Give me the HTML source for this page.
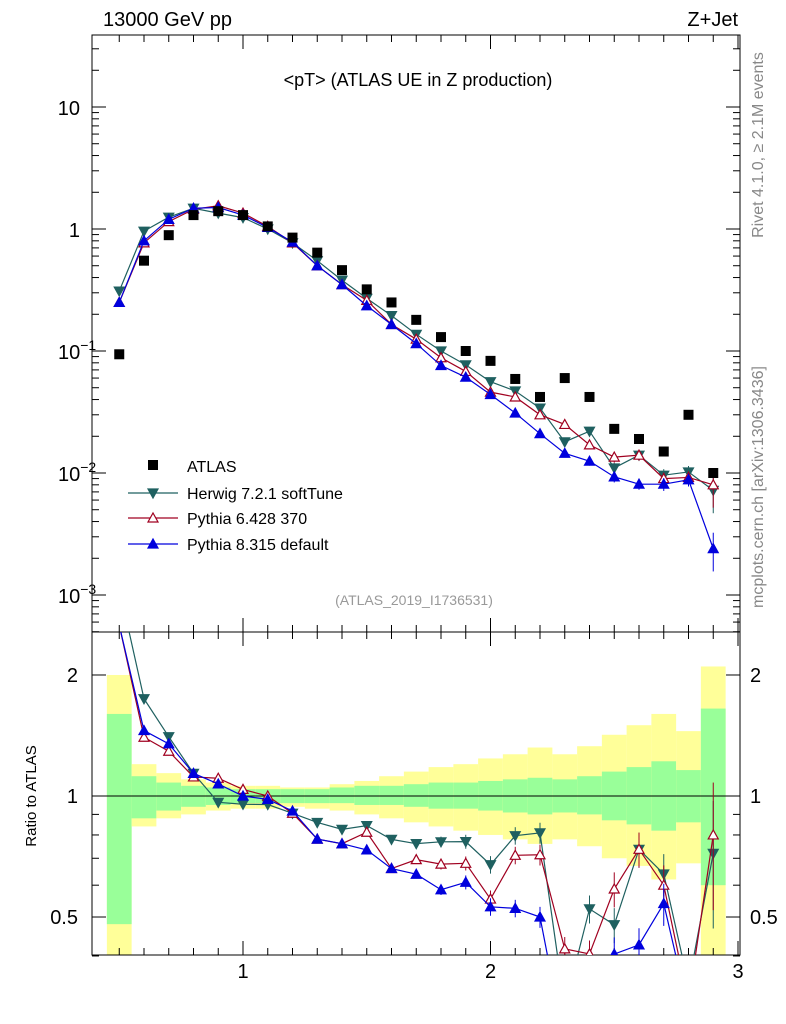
<!DOCTYPE html>
<html><head><meta charset="utf-8"><style>
html,body{margin:0;background:#fff;overflow:hidden;width:786px;height:1024px;}
svg{display:block;font-family:"Liberation Sans",sans-serif;}
</style></head><body>
<svg id="c" width="786" height="1024" viewBox="0 0 786 1024"></svg>
<script>
const xs=[0.5,0.6,0.7,0.8,0.9,1.0,1.1,1.2,1.3,1.4,1.5,1.6,1.7,1.8,1.9,2.0,2.1,2.2,2.3,2.4,2.5,2.6,2.7,2.8,2.9];
const atlas=[0.094,0.55,0.89,1.3,1.4,1.3,1.05,0.85,0.64,0.46,0.32,0.25,0.18,0.13,0.1,0.083,0.059,0.042,0.06,0.042,0.023,0.019,0.015,0.03,0.01];
const herwig=[0.31,0.96,1.25,1.48,1.35,1.24,1.0,0.77,0.55,0.38,0.27,0.195,0.137,0.1,0.077,0.056,0.047,0.034,0.018,0.022,0.011,0.014,0.0096,0.0102,0.0072];
const py6=[0.25,0.77,1.15,1.45,1.55,1.35,1.05,0.77,0.5,0.35,0.26,0.165,0.125,0.088,0.068,0.046,0.042,0.030,0.025,0.017,0.0135,0.014,0.009,0.0092,0.008];
const py8=[0.25,0.8,1.2,1.48,1.5,1.3,1.03,0.78,0.5,0.35,0.235,0.165,0.115,0.076,0.061,0.044,0.031,0.021,0.0145,0.0125,0.0093,0.0081,0.0081,0.0088,0.0024];
const mcErr=[0,0,0,0,0,0,0,0,0,0,0,0,0.02,0.03,0.04,0.05,0.05,0.06,0.07,0.08,0.1,0.1,0.12,0.12,0.35];
const gLo=[0.48,0.88,0.92,0.94,0.95,0.96,0.96,0.96,0.96,0.96,0.95,0.95,0.94,0.93,0.93,0.92,0.91,0.9,0.91,0.9,0.87,0.85,0.82,0.86,0.6];
const gHi=[1.6,1.12,1.08,1.06,1.05,1.04,1.04,1.04,1.04,1.05,1.06,1.06,1.07,1.08,1.08,1.09,1.1,1.11,1.1,1.12,1.15,1.18,1.22,1.16,1.65];
const yLo=[0.40,0.84,0.88,0.9,0.92,0.93,0.93,0.94,0.93,0.92,0.9,0.88,0.86,0.84,0.82,0.8,0.78,0.76,0.78,0.75,0.7,0.67,0.62,0.68,0.4];
const yHi=[2.0,1.2,1.14,1.1,1.08,1.06,1.06,1.05,1.05,1.07,1.09,1.12,1.15,1.18,1.2,1.24,1.27,1.32,1.27,1.33,1.42,1.5,1.6,1.45,2.1];

const S=document.getElementById('c'),NS='http://www.w3.org/2000/svg';
function el(t,a,p){const e=document.createElementNS(NS,t);for(const k in a)e.setAttribute(k,a[k]);(p||S).appendChild(e);return e;}
const L=92,R=740,T=35,M=632,B=955;
const X=v=>243+(v-1)*247.5;
const Y=v=>229-Math.log10(v)*122;
const RY=v=>796-Math.log10(v)*402;
const clipA=el('clipPath',{id:'ca'});el('rect',{x:L,y:T,width:R-L,height:M-T},clipA);
const clipB=el('clipPath',{id:'cb'});el('rect',{x:L,y:M,width:R-L,height:B-M},clipB);
const gb=el('g',{'clip-path':'url(#cb)'});
xs.forEach((x,i)=>{
 const x0=X(x-0.05),w=X(x+0.05)-x0;
 let r=el('rect',{x:x0,y:RY(yHi[i]),width:w,height:RY(yLo[i])-RY(yHi[i]),fill:'#ffff99'},gb);
 
 r=el('rect',{x:x0,y:RY(gHi[i]),width:w,height:RY(gLo[i])-RY(gHi[i]),fill:'#99ff99'},gb);
 
});
el('line',{x1:L,x2:R,y1:RY(1),y2:RY(1),stroke:'#000','stroke-width':1});
el('rect',{x:L,y:T,width:R-L,height:M-T,fill:'none',stroke:'#000'});
el('rect',{x:L,y:M,width:R-L,height:B-M,fill:'none',stroke:'#000'});
for(let d=-4;d<=1;d++)for(let m=1;m<10;m++){const v=m*Math.pow(10,d);const y=Y(v);if(y<T||y>M)continue;const len=m==1?14:7;
 el('line',{x1:L,x2:L+len,y1:y,y2:y,stroke:'#000'});el('line',{x1:R,x2:R-len,y1:y,y2:y,stroke:'#000'});}
[[10,'10',null],[1,'1',null],[0.1,'10','−1'],[0.01,'10','−2'],[0.001,'10','−3']].forEach(([v,b,e])=>{
 const t=el('text',{x:e?58:80,y:Y(v)+8,'font-size':20,'text-anchor':e?'start':'end'});t.textContent=b;
 
 if(e){const s=el('tspan',{dy:-9,'font-size':14},t);s.textContent=e;}
});
for(const v of [0.4,0.5,0.6,0.7,0.8,0.9,1,2]){const y=RY(v);const len=(v==1||v==2||v==0.5)?14:7;
 el('line',{x1:L,x2:L+len,y1:y,y2:y,stroke:'#000'});el('line',{x1:R,x2:R-len,y1:y,y2:y,stroke:'#000'});}
[[2,'2'],[1,'1'],[0.5,'0.5']].forEach(([v,s])=>{
 let t=el('text',{x:78,y:RY(v)+7,'font-size':20,'text-anchor':'end'});t.textContent=s;
 
 t=el('text',{x:750,y:RY(v)+7,'font-size':20});t.textContent=s;
 
});
for(let v=0.5;v<=3.001;v+=0.1){const x=X(v);const maj=Math.abs(v-Math.round(v))<1e-6;const len=maj?14:7;
 for(const [a,b] of [[T,M],[M,B]]){el('line',{x1:x,x2:x,y1:b,y2:b-len,stroke:'#000'});el('line',{x1:x,x2:x,y1:a,y2:a+len,stroke:'#000'});}}
[1,2,3].forEach(v=>{const t=el('text',{x:X(v),y:978,'font-size':20,'text-anchor':'middle'});t.textContent=v;
 });
const series=[[herwig,'#1f6060','tri-down',false,'herwig'],[py6,'#a00020','tri-up',true,'pythia6'],[py8,'#0000dd','tri-up',false,'pythia8']];
function marker(g,x,y,col,kind,open){
 let p;
 if(kind=='tri-down')p=`${x-5},${y-4} ${x+5},${y-4} ${x},${y+5}`;else p=`${x-5},${y+4} ${x+5},${y+4} ${x},${y-5}`;
 return el('polygon',{points:p,fill:open?'#fff':col,stroke:col,'stroke-width':1.2},g);
}
series.forEach(([arr,col,kind,open,nm])=>{
 const g1=el('g',{'clip-path':'url(#ca)'});
 el('polyline',{points:xs.map((x,i)=>X(x)+','+Y(arr[i])).join(' '),fill:'none',stroke:col,'stroke-width':1.2},g1);
 const g2=el('g',{'clip-path':'url(#cb)'});
 el('polyline',{points:xs.map((x,i)=>X(x)+','+RY(arr[i]/atlas[i])).join(' '),fill:'none',stroke:col,'stroke-width':1.2},g2);
 xs.forEach((x,i)=>{
  const e=mcErr[i];
  if(e>0){el('line',{x1:X(x),x2:X(x),y1:Y(arr[i]*(1+e)),y2:Y(arr[i]*(1-e)),stroke:col},g1);
   el('line',{x1:X(x),x2:X(x),y1:RY(arr[i]/atlas[i]*(1+e)),y2:RY(arr[i]/atlas[i]*(1-e)),stroke:col},g2);}
  let m=marker(g1,X(x),Y(arr[i]),col,kind,open);
  
  m=marker(g2,X(x),RY(arr[i]/atlas[i]),col,kind,open);
  
 });
});
xs.forEach((x,i)=>{const r=el('rect',{x:X(x)-5,y:Y(atlas[i])-5,width:10,height:10,fill:'#000'});
 });
const lg=el('g',{});
el('rect',{x:148,y:460,width:10,height:10,fill:'#000'},lg);
let t=el('text',{x:187,y:472,'font-size':16},lg);t.textContent='ATLAS';
[['Herwig 7.2.1 softTune','#1f6060','tri-down',false,499],['Pythia 6.428 370','#a00020','tri-up',true,524],['Pythia 8.315 default','#0000dd','tri-up',false,550]].forEach(([s,c,k,o,y])=>{
 el('line',{x1:128,x2:178,y1:y-6,y2:y-6,stroke:c,'stroke-width':1.2},lg);marker(lg,153,y-6,c,k,o);
 const tt=el('text',{x:187,y:y,'font-size':16},lg);tt.textContent=s;
 
});
function txt(x,y,s,a,nm){const e=el('text',a);e.setAttribute('x',x);e.setAttribute('y',y);e.textContent=s;return e;}
txt(103,26,'13000 GeV pp',{'font-size':20},'energy-label');
txt(738,26,'Z+Jet',{'font-size':20,'text-anchor':'end'},'process-label');
txt(418,86,'<pT> (ATLAS UE in Z production)',{'font-size':18,'text-anchor':'middle'},'plot-title');
txt(414,605,'(ATLAS_2019_I1736531)',{'font-size':14,'text-anchor':'middle',fill:'#999'},'analysis-id');
txt(0,0,'Rivet 4.1.0, ≥ 2.1M events',{'font-size':16,fill:'#888','text-anchor':'middle',transform:'translate(763,145) rotate(-90)'},'rivet-label');
txt(0,0,'mcplots.cern.ch [arXiv:1306.3436]',{'font-size':16,fill:'#888','text-anchor':'middle',transform:'translate(763,487) rotate(-90)'},'mcplots-label');
txt(0,0,'Ratio to ATLAS',{'font-size':15,'text-anchor':'middle',transform:'translate(36,796) rotate(-90)'},'ratio-axis-title');
</script>
</body></html>
